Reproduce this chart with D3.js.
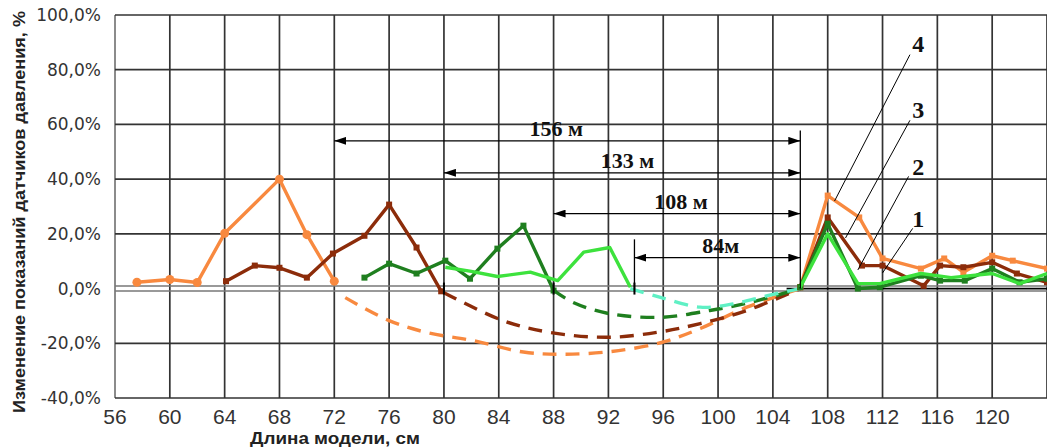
<!DOCTYPE html>
<html>
<head>
<meta charset="utf-8">
<style>
body { margin: 0; background: #fff; }
</style>
</head>
<body>
<div id="chart"></div>
<script src="https://d3js.org/d3.v7.min.js"></script>
<script>
// x positions along the model (cm), values in %
var xTicks = [56, 60, 64, 68, 72, 76, 80, 84, 88, 92, 96, 100, 104, 108, 112, 116, 120];
var yTicks = [-40, -20, 0, 20, 40, 60, 80, 100];

// series 4 (orange)
var s4Left = [[57.6, 2.3], [60, 3.3], [62, 2.2], [64, 20.2], [68, 40], [70, 19.7], [72, 2.7]];
var s4Dash = [[72.8, -3.3], [76, -11.7], [78.7, -16], [82.1, -19], [85.8, -23.2], [88.7, -24], [92.2, -23], [95.8, -19.8], [98.7, -14.6], [102.1, -6.8], [106, 0]];
var s4Right = [[106, 0.5], [108, 34], [110.3, 26], [112, 11], [114.8, 7.3], [116.5, 11], [117.9, 6], [120, 12], [121.5, 10.2], [124, 7.3]];

// series 3 (brown)
var s3Left = [[64.1, 2.7], [66.2, 8.4], [68, 7.6], [70, 4], [71.9, 12.8], [74.2, 19.3], [76, 30.7], [78, 15], [79.8, -1]];
var s3Dash = [[80, -1.5], [84.3, -11.7], [87.7, -16], [92, -17.8], [95.8, -15.8], [98.7, -12.8], [102.1, -8], [106, 0]];
var s3Right = [[106, 0.5], [108, 26], [110.5, 8.4], [112, 8.4], [115, 1], [116.2, 8.4], [117.9, 7.8], [120, 9.6], [121.8, 5.5], [124, 2.3]];

// series 2 (dark green)
var s2Left = [[74.2, 4], [76, 9.1], [78, 5.5], [80.1, 10.2], [81.9, 3.6], [83.9, 14.6], [85.8, 23], [88, -0.7]];
var s2Dash = [[88, -0.7], [89.4, -5], [92, -9.1], [95.8, -10.5], [99.4, -8], [102, -5.5], [106, 0]];
var s2Right = [[106, 0.5], [108, 23.7], [110.2, 0], [111.8, 0.5], [114.8, 4.7], [116.2, 2.9], [118, 2.9], [120, 7.3], [122, 2.3], [124, 3.6]];

// series 1 (light green)
var s1Left = [[80.1, 7.8], [82, 6.3], [83.9, 4.4], [86.3, 6], [88.3, 2.9], [90.2, 13.3], [92.1, 15], [93.6, 0.5]];
var s1Dash = [[93.6, 0], [95.8, -3.2], [98.7, -6.8], [101.1, -5.6], [103.6, -2.6], [106, 0]];
var s1Right = [[106, 0.5], [108, 20], [110.2, 1.8], [111.8, 1.8], [114.8, 5.5], [117, 4], [120, 5.5], [122, 1.8], [124, 5.5]];

// dimension arrows: label, from, to, level (%)
var dimLabels = ["156 м", "133 м", "108 м", "84м"];
var dimFrom = [72, 80, 88, 93.9];
var dimTo = [106, 106, 106, 106];
var dimLevel = [54, 42.3, 27.4, 11.3];
var dimTextX = [88.2, 93.4, 97.3, 100.2];

// curve numbers with leader lines
var numLabels = ["4", "3", "2", "1"];
var numX = [114.6, 114.6, 114.6, 114.6];
var numY = [86.6, 62.4, 41.6, 22.6];
var leadFrom = [[114, 85.5], [114, 61.5], [113.9, 41], [114.2, 22]];
var leadTo = [[108.5, 32], [109.3, 18.5], [110.2, 6.8], [112, 5.7]];

var width = 1047, height = 447;
var x = d3.scaleLinear().domain([56, 124]).range([115, 1047]);
var y = d3.scaleLinear().domain([-40, 100]).range([398, 15]);

var svg = d3.select("#chart").append("svg")
	.attr("width", width)
	.attr("height", height);

var defs = svg.append("defs");
defs.append("marker").attr("id", "arrEnd")
	.attr("viewBox", "0 0 12 8").attr("refX", 12).attr("refY", 4)
	.attr("markerWidth", 12).attr("markerHeight", 8).attr("markerUnits", "userSpaceOnUse")
	.attr("orient", "auto")
	.append("path").attr("d", "M0,0L12,4L0,8Z").attr("fill", "#000");
defs.append("marker").attr("id", "arrStart")
	.attr("viewBox", "0 0 12 8").attr("refX", 0).attr("refY", 4)
	.attr("markerWidth", 12).attr("markerHeight", 8).attr("markerUnits", "userSpaceOnUse")
	.attr("orient", "auto")
	.append("path").attr("d", "M12,0L0,4L12,8Z").attr("fill", "#000");

// grid
var grid = svg.append("g");
grid.selectAll(".vg").data(d3.range(56, 125, 4)).enter().append("line")
	.attr("x1", function(d) { return x(d); }).attr("x2", function(d) { return x(d); })
	.attr("y1", y(100)).attr("y2", y(-40))
	.attr("stroke", function(d) { return d == 56 ? "#777" : "#333"; })
	.attr("stroke-width", 1.7);
grid.selectAll(".hg").data(yTicks.filter(function(d) { return d != 0; })).enter().append("line")
	.attr("x1", x(56)).attr("x2", x(124))
	.attr("y1", function(d) { return y(d); }).attr("y2", function(d) { return y(d); })
	.attr("stroke", "#333")
	.attr("stroke-width", 1.7);

// zero line: double grey, then black on the right
[-2.5, 2.5].forEach(function(o) {
	svg.append("line")
		.attr("x1", x(56)).attr("x2", x(124))
		.attr("y1", y(0) + o).attr("y2", y(0) + o)
		.attr("stroke", "#777").attr("stroke-width", 1.6);
});
svg.append("line")
	.attr("x1", x(105)).attr("x2", x(124))
	.attr("y1", y(0)).attr("y2", y(0))
	.attr("stroke", "#000").attr("stroke-width", 1.8);

// axis labels
svg.append("g").selectAll("text").data(yTicks).enter().append("text")
	.attr("x", 101)
	.attr("y", function(d) { return y(d); })
	.attr("dy", "0.35em")
	.attr("text-anchor", "end")
	.attr("font-family", "DejaVu Sans, sans-serif")
	.attr("font-size", 17)
	.attr("fill", "#333")
	.text(function(d) { return d.toFixed(1).replace(".", ",") + "%"; });

svg.append("g").selectAll("text").data(xTicks).enter().append("text")
	.attr("x", function(d) { return x(d); })
	.attr("y", 424)
	.attr("text-anchor", "middle")
	.attr("font-family", "Liberation Sans Narrow, Arial Narrow, sans-serif")
	.attr("font-stretch", "condensed")
	.attr("font-size", 21)
	.attr("fill", "#333")
	.text(function(d) { return d; });

svg.append("text")
	.attr("transform", "translate(25,212) rotate(-90)")
	.attr("text-anchor", "middle")
	.attr("font-family", "Liberation Sans, Arial, sans-serif")
	.attr("font-weight", "bold")
	.attr("font-size", 16)
	.attr("textLength", 402)
	.attr("lengthAdjust", "spacingAndGlyphs")
	.attr("fill", "#222")
	.text("Изменение показаний датчиков давления, %");

svg.append("text")
	.attr("x", 335).attr("y", 444)
	.attr("text-anchor", "middle")
	.attr("font-family", "Liberation Sans, Arial, sans-serif")
	.attr("font-weight", "bold")
	.attr("font-size", 16)
	.attr("textLength", 170)
	.attr("lengthAdjust", "spacingAndGlyphs")
	.attr("fill", "#222")
	.text("Длина модели, см");

// lines
var lineS = d3.line().x(function(d) { return x(d[0]); }).y(function(d) { return y(d[1]); });
var lineC = d3.line().x(function(d) { return x(d[0]); }).y(function(d) { return y(d[1]); }).curve(d3.curveCatmullRom);

var plot = svg.append("g");
var dashes = [[s4Dash, "#f8893f"], [s3Dash, "#8c2c0a"], [s2Dash, "#1f7f1f"], [s1Dash, "#5ff0c4"]];
dashes.forEach(function(s) {
	plot.append("path").datum(s[0])
		.attr("d", lineC).attr("fill", "none")
		.attr("stroke", s[1]).attr("stroke-width", 3.4)
		.attr("stroke-dasharray", "14,9");
});

var solids = [
	[s4Left, "#f8893f", "circle"], [s4Right, "#f8893f", "square"],
	[s3Left, "#8c2c0a", "square"], [s3Right, "#8c2c0a", "square"],
	[s2Left, "#1f7f1f", "square"], [s2Right, "#1f7f1f", "square"],
	[s1Left, "#3de23d", "none"], [s1Right, "#3de23d", "none"]
];
solids.forEach(function(s) {
	plot.append("path").datum(s[0])
		.attr("d", lineS).attr("fill", "none")
		.attr("stroke", s[1]).attr("stroke-width", 3.4)
		.attr("stroke-linejoin", "round");
	if (s[2] == "circle") {
		plot.selectAll(null).data(s[0]).enter().append("circle")
			.attr("cx", function(d) { return x(d[0]); })
			.attr("cy", function(d) { return y(d[1]); })
			.attr("r", 4.5).attr("fill", s[1]);
	} else if (s[2] == "square") {
		plot.selectAll(null).data(s[0]).enter().append("rect")
			.attr("x", function(d) { return x(d[0]) - 3; })
			.attr("y", function(d) { return y(d[1]) - 3; })
			.attr("width", 6).attr("height", 6).attr("fill", s[1]);
	}
});

// dimension arrows
var ann = svg.append("g");
dimLabels.forEach(function(lbl, i) {
	ann.append("line")
		.attr("x1", x(dimFrom[i])).attr("x2", x(dimTo[i]))
		.attr("y1", y(dimLevel[i])).attr("y2", y(dimLevel[i]))
		.attr("stroke", "#000").attr("stroke-width", 1.3)
		.attr("marker-start", "url(#arrStart)")
		.attr("marker-end", "url(#arrEnd)");
	ann.append("text")
		.attr("x", x(dimTextX[i])).attr("y", y(dimLevel[i]) - 5)
		.attr("text-anchor", "middle")
		.attr("font-family", "Liberation Serif, Times New Roman, serif")
		.attr("font-weight", "bold")
		.attr("font-size", 22)
		.attr("fill", "#111")
		.text(lbl);
	// small tick on the zero line at the left end (not for the longest one)
	if (i > 0) {
		ann.append("line")
			.attr("x1", x(dimFrom[i])).attr("x2", x(dimFrom[i]))
			.attr("y1", y(0) - 6).attr("y2", y(0) + 6)
			.attr("stroke", "#000").attr("stroke-width", 2);
	}
});
// vertical extension lines
ann.append("line")
	.attr("x1", x(106)).attr("x2", x(106))
	.attr("y1", y(57.8)).attr("y2", y(0))
	.attr("stroke", "#000").attr("stroke-width", 1.3);
ann.append("line")
	.attr("x1", x(93.9)).attr("x2", x(93.9))
	.attr("y1", y(18)).attr("y2", y(-1.2))
	.attr("stroke", "#000").attr("stroke-width", 1.3);

// curve numbers
numLabels.forEach(function(n, i) {
	ann.append("line")
		.attr("x1", x(leadFrom[i][0])).attr("y1", y(leadFrom[i][1]))
		.attr("x2", x(leadTo[i][0])).attr("y2", y(leadTo[i][1]))
		.attr("stroke", "#000").attr("stroke-width", 1);
	ann.append("text")
		.attr("x", x(numX[i])).attr("y", y(numY[i]))
		.attr("text-anchor", "middle")
		.attr("font-family", "Liberation Serif, Times New Roman, serif")
		.attr("font-weight", "bold")
		.attr("font-size", 24)
		.attr("fill", "#111")
		.text(n);
});
</script>
</body>
</html>
